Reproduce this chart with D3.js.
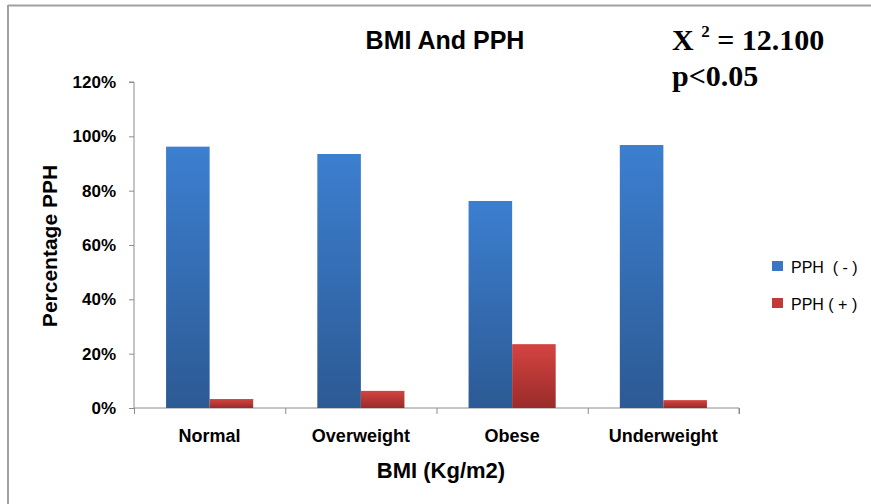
<!DOCTYPE html>
<html><head><meta charset="utf-8">
<script src="https://cdn.jsdelivr.net/npm/d3@7/dist/d3.min.js"></script>
<style>body{margin:0;background:#fff}svg{display:block}</style>
</head><body>
<svg id="c" width="871" height="504"></svg>
<script>
const categories = ["Normal", "Overweight", "Obese", "Underweight"];
const seriesNames = ["PPH  ( - )", "PPH ( + )"];
const pphNeg = [0.962, 0.935, 0.762, 0.968];
const pphPos = [0.033, 0.063, 0.235, 0.029];
const yTicks = [0, 0.2, 0.4, 0.6, 0.8, 1.0, 1.2];

const svg = d3.select("#c");
const F = "'Liberation Sans',Arial,sans-serif";
const plotL = 134, plotR = 739, plotT = 82, plotB = 408;

const defs = svg.append("defs");
function grad(id, c1, c2) {
  const g = defs.append("linearGradient").attr("id", id).attr("x1", 0).attr("y1", 0).attr("x2", 0).attr("y2", 1);
  g.append("stop").attr("offset", "0%").attr("stop-color", c1);
  g.append("stop").attr("offset", "100%").attr("stop-color", c2);
}
grad("gb", "#3c7fd0", "#2c5a94");
grad("gr", "#d44441", "#9a2b29");
const fills = ["url(#gb)", "url(#gr)"];
const legendFills = ["#3a76c4", "#c23a38"];

// frame
svg.append("line").attr("x1", 8).attr("x2", 871).attr("y1", 5.5).attr("y2", 5.5).attr("stroke", "#a0a0a0").attr("stroke-width", 2);
svg.append("line").attr("x1", 8).attr("x2", 8).attr("y1", 5).attr("y2", 504).attr("stroke", "#a0a0a0").attr("stroke-width", 2);

const x0 = d3.scaleBand().domain(categories).range([plotL, plotR]).paddingInner(0.424).paddingOuter(0.212);
const x1 = d3.scaleBand().domain(seriesNames).range([0, x0.bandwidth()]);
const y = d3.scaleLinear().domain([0, 1.2]).range([plotB, plotT]);

// axes
const yAxis = svg.append("g").attr("transform", `translate(${plotL},0)`)
  .call(d3.axisLeft(y).tickValues(yTicks).tickFormat(d3.format(".0%")).tickSize(5).tickPadding(13));
yAxis.select(".domain").attr("stroke", "#8c8c8c").attr("d", `M-5,${plotT}H0V${plotB}`);
yAxis.selectAll(".tick line").attr("stroke", "#8c8c8c");
yAxis.selectAll("text").attr("font-family", F).attr("font-weight", "bold").attr("font-size", 17).attr("fill", "#000");

const xAxis = svg.append("g").attr("transform", `translate(0,${plotB})`)
  .call(d3.axisBottom(d3.scaleLinear().domain([0, 4]).range([plotL, plotR])).ticks(4).tickSize(6).tickFormat(""));
xAxis.select(".domain").attr("stroke", "#8c8c8c").attr("d", `M${plotL},0H${plotR}V6`);
xAxis.selectAll(".tick line").attr("stroke", "#8c8c8c");

// category labels
svg.append("g").selectAll("text").data(categories).join("text")
  .attr("x", d => x0(d) + x0.bandwidth() / 2).attr("y", 442)
  .attr("text-anchor", "middle").attr("font-family", F).attr("font-weight", "bold").attr("font-size", 18)
  .text(d => d);

// bars
const data = categories.map((c, i) => ({ c, v: [pphNeg[i], pphPos[i]] }));
const g = svg.append("g").selectAll("g").data(data).join("g").attr("transform", d => `translate(${x0(d.c)},0)`);
g.selectAll("rect").data(d => d.v.map((v, j) => ({ v, s: seriesNames[j], j }))).join("rect")
  .attr("x", d => x1(d.s)).attr("width", x1.bandwidth())
  .attr("y", d => y(d.v)).attr("height", d => y(0) - y(d.v))
  .attr("fill", d => fills[d.j]);

// titles
svg.append("text").attr("x", 445).attr("y", 49).attr("text-anchor", "middle")
  .attr("font-family", F).attr("font-weight", "bold").attr("font-size", 25).text("BMI And PPH");
svg.append("text").attr("x", 441).attr("y", 478).attr("text-anchor", "middle")
  .attr("font-family", F).attr("font-weight", "bold").attr("font-size", 22).text("BMI (Kg/m2)");
svg.append("text").attr("transform", "translate(57,246) rotate(-90)").attr("text-anchor", "middle")
  .attr("font-family", F).attr("font-weight", "bold").attr("font-size", 21).text("Percentage PPH");

// stats annotation
const st = svg.append("text").attr("x", 672).attr("y", 50).attr("font-family", "'Liberation Serif','Times New Roman',serif")
  .attr("font-weight", "bold").attr("font-size", 30);
st.append("tspan").text("X ");
st.append("tspan").attr("font-size", 17).attr("dy", -13).text("2");
st.append("tspan").attr("dy", 13).text(" = 12.100");
svg.append("text").attr("x", 672).attr("y", 86).attr("font-family", "'Liberation Serif','Times New Roman',serif")
  .attr("font-weight", "bold").attr("font-size", 30).text("p<0.05");

// legend
const lg = svg.append("g").selectAll("g").data(seriesNames).join("g")
  .attr("transform", (d, i) => `translate(772,${261 + i * 37})`);
lg.append("rect").attr("width", 11).attr("height", 10).attr("fill", (d, i) => legendFills[i]);
lg.append("text").attr("x", 19).attr("y", 12).attr("font-family", F)
  .attr("font-size", 16).attr("xml:space", "preserve").style("white-space", "pre").text(d => d);
</script>
</body></html>
